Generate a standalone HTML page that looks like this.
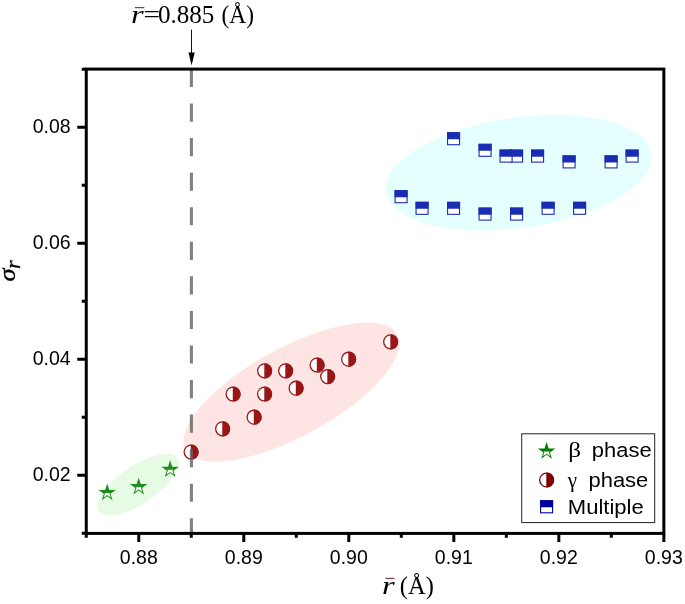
<!DOCTYPE html>
<html lang="en"><head><meta charset="utf-8"><title>sigma_r vs mean r</title>
<style>html,body{margin:0;padding:0;background:#fff}svg{display:block}.t{font-family:"Liberation Sans",Arial,sans-serif;font-size:19.5px;fill:#000}.s{font-family:"Liberation Serif","Times New Roman",serif;fill:#000}.lg{font-family:"Liberation Sans",Arial,sans-serif;fill:#000}</style></head><body>
<svg width="685" height="604" viewBox="0 0 685 604">
<rect width="685" height="604" fill="#fff"/>
<defs>
<clipPath id="sq"><rect x="-7" y="-7" width="14" height="7.55"/></clipPath>
<clipPath id="ci"><rect x="-0.3" y="-9" width="10" height="18"/></clipPath>
<clipPath id="st"><rect x="-10" y="0.3" width="20" height="10"/></clipPath>
</defs>
<ellipse cx="518.55" cy="172.7" rx="134.3" ry="55.2" transform="rotate(-8.2 518.55 172.7)" fill="#e5ffff"/>
<ellipse cx="291.45" cy="392.2" rx="120.6" ry="44.3" transform="rotate(-28.6 291.45 392.2)" fill="#fee4e2"/>
<ellipse cx="138.15" cy="484.5" rx="47.4" ry="18.9" transform="rotate(-34 138.15 484.5)" fill="#e7fae4"/>
<g transform="translate(401.06 196.71)"><rect x="-6" y="-6" width="12" height="12" fill="#fff" stroke="#1b2cb4" stroke-width="1.1"/><rect x="-6.55" y="-6.55" width="13.1" height="13.1" fill="#1b2cb4" clip-path="url(#sq)"/></g>
<g transform="translate(422.06 208.31)"><rect x="-6" y="-6" width="12" height="12" fill="#fff" stroke="#1b2cb4" stroke-width="1.1"/><rect x="-6.55" y="-6.55" width="13.1" height="13.1" fill="#1b2cb4" clip-path="url(#sq)"/></g>
<g transform="translate(453.57 208.31)"><rect x="-6" y="-6" width="12" height="12" fill="#fff" stroke="#1b2cb4" stroke-width="1.1"/><rect x="-6.55" y="-6.55" width="13.1" height="13.1" fill="#1b2cb4" clip-path="url(#sq)"/></g>
<g transform="translate(485.07 214.11)"><rect x="-6" y="-6" width="12" height="12" fill="#fff" stroke="#1b2cb4" stroke-width="1.1"/><rect x="-6.55" y="-6.55" width="13.1" height="13.1" fill="#1b2cb4" clip-path="url(#sq)"/></g>
<g transform="translate(516.58 214.11)"><rect x="-6" y="-6" width="12" height="12" fill="#fff" stroke="#1b2cb4" stroke-width="1.1"/><rect x="-6.55" y="-6.55" width="13.1" height="13.1" fill="#1b2cb4" clip-path="url(#sq)"/></g>
<g transform="translate(548.08 208.31)"><rect x="-6" y="-6" width="12" height="12" fill="#fff" stroke="#1b2cb4" stroke-width="1.1"/><rect x="-6.55" y="-6.55" width="13.1" height="13.1" fill="#1b2cb4" clip-path="url(#sq)"/></g>
<g transform="translate(579.59 208.31)"><rect x="-6" y="-6" width="12" height="12" fill="#fff" stroke="#1b2cb4" stroke-width="1.1"/><rect x="-6.55" y="-6.55" width="13.1" height="13.1" fill="#1b2cb4" clip-path="url(#sq)"/></g>
<g transform="translate(453.57 138.71)"><rect x="-6" y="-6" width="12" height="12" fill="#fff" stroke="#1b2cb4" stroke-width="1.1"/><rect x="-6.55" y="-6.55" width="13.1" height="13.1" fill="#1b2cb4" clip-path="url(#sq)"/></g>
<g transform="translate(485.07 150.31)"><rect x="-6" y="-6" width="12" height="12" fill="#fff" stroke="#1b2cb4" stroke-width="1.1"/><rect x="-6.55" y="-6.55" width="13.1" height="13.1" fill="#1b2cb4" clip-path="url(#sq)"/></g>
<g transform="translate(516.58 156.11)"><rect x="-6" y="-6" width="12" height="12" fill="#fff" stroke="#1b2cb4" stroke-width="1.1"/><rect x="-6.55" y="-6.55" width="13.1" height="13.1" fill="#1b2cb4" clip-path="url(#sq)"/></g>
<g transform="translate(506.08 156.11)"><rect x="-6" y="-6" width="12" height="12" fill="#fff" stroke="#1b2cb4" stroke-width="1.1"/><rect x="-6.55" y="-6.55" width="13.1" height="13.1" fill="#1b2cb4" clip-path="url(#sq)"/></g>
<g transform="translate(537.58 156.11)"><rect x="-6" y="-6" width="12" height="12" fill="#fff" stroke="#1b2cb4" stroke-width="1.1"/><rect x="-6.55" y="-6.55" width="13.1" height="13.1" fill="#1b2cb4" clip-path="url(#sq)"/></g>
<g transform="translate(569.09 161.91)"><rect x="-6" y="-6" width="12" height="12" fill="#fff" stroke="#1b2cb4" stroke-width="1.1"/><rect x="-6.55" y="-6.55" width="13.1" height="13.1" fill="#1b2cb4" clip-path="url(#sq)"/></g>
<g transform="translate(611.09 161.91)"><rect x="-6" y="-6" width="12" height="12" fill="#fff" stroke="#1b2cb4" stroke-width="1.1"/><rect x="-6.55" y="-6.55" width="13.1" height="13.1" fill="#1b2cb4" clip-path="url(#sq)"/></g>
<g transform="translate(632.1 156.11)"><rect x="-6" y="-6" width="12" height="12" fill="#fff" stroke="#1b2cb4" stroke-width="1.1"/><rect x="-6.55" y="-6.55" width="13.1" height="13.1" fill="#1b2cb4" clip-path="url(#sq)"/></g>
<g transform="translate(191.08 452.01)"><circle r="6.95" fill="#fff" stroke="#9a1616" stroke-width="1.3"/><circle r="7.6" fill="#9a1616" clip-path="url(#ci)"/></g>
<g transform="translate(222.58 428.81)"><circle r="6.95" fill="#fff" stroke="#9a1616" stroke-width="1.3"/><circle r="7.6" fill="#9a1616" clip-path="url(#ci)"/></g>
<g transform="translate(254.09 417.21)"><circle r="6.95" fill="#fff" stroke="#9a1616" stroke-width="1.3"/><circle r="7.6" fill="#9a1616" clip-path="url(#ci)"/></g>
<g transform="translate(233.08 394.01)"><circle r="6.95" fill="#fff" stroke="#9a1616" stroke-width="1.3"/><circle r="7.6" fill="#9a1616" clip-path="url(#ci)"/></g>
<g transform="translate(264.59 394.01)"><circle r="6.95" fill="#fff" stroke="#9a1616" stroke-width="1.3"/><circle r="7.6" fill="#9a1616" clip-path="url(#ci)"/></g>
<g transform="translate(264.59 370.81)"><circle r="6.95" fill="#fff" stroke="#9a1616" stroke-width="1.3"/><circle r="7.6" fill="#9a1616" clip-path="url(#ci)"/></g>
<g transform="translate(285.59 370.81)"><circle r="6.95" fill="#fff" stroke="#9a1616" stroke-width="1.3"/><circle r="7.6" fill="#9a1616" clip-path="url(#ci)"/></g>
<g transform="translate(296.09 388.21)"><circle r="6.95" fill="#fff" stroke="#9a1616" stroke-width="1.3"/><circle r="7.6" fill="#9a1616" clip-path="url(#ci)"/></g>
<g transform="translate(317.1 365.01)"><circle r="6.95" fill="#fff" stroke="#9a1616" stroke-width="1.3"/><circle r="7.6" fill="#9a1616" clip-path="url(#ci)"/></g>
<g transform="translate(327.6 376.61)"><circle r="6.95" fill="#fff" stroke="#9a1616" stroke-width="1.3"/><circle r="7.6" fill="#9a1616" clip-path="url(#ci)"/></g>
<g transform="translate(348.6 359.21)"><circle r="6.95" fill="#fff" stroke="#9a1616" stroke-width="1.3"/><circle r="7.6" fill="#9a1616" clip-path="url(#ci)"/></g>
<g transform="translate(390.61 341.81)"><circle r="6.95" fill="#fff" stroke="#9a1616" stroke-width="1.3"/><circle r="7.6" fill="#9a1616" clip-path="url(#ci)"/></g>
<g transform="translate(107.17 492.76)"><polygon points="0,-9.2 2.07,-2.84 8.75,-2.84 3.34,1.09 5.41,7.44 0,3.51 -5.41,7.44 -3.34,1.09 -8.75,-2.84 -2.07,-2.84" fill="#1e8d1e"/><polygon points="0,-6.1 1.37,-1.89 5.8,-1.89 2.22,0.72 3.59,4.94 0,2.33 -3.59,4.94 -2.22,0.72 -5.8,-1.89 -1.37,-1.89" fill="#fff" clip-path="url(#st)"/></g>
<g transform="translate(138.67 486.96)"><polygon points="0,-9.2 2.07,-2.84 8.75,-2.84 3.34,1.09 5.41,7.44 0,3.51 -5.41,7.44 -3.34,1.09 -8.75,-2.84 -2.07,-2.84" fill="#1e8d1e"/><polygon points="0,-6.1 1.37,-1.89 5.8,-1.89 2.22,0.72 3.59,4.94 0,2.33 -3.59,4.94 -2.22,0.72 -5.8,-1.89 -1.37,-1.89" fill="#fff" clip-path="url(#st)"/></g>
<g transform="translate(170.17 469.56)"><polygon points="0,-9.2 2.07,-2.84 8.75,-2.84 3.34,1.09 5.41,7.44 0,3.51 -5.41,7.44 -3.34,1.09 -8.75,-2.84 -2.07,-2.84" fill="#1e8d1e"/><polygon points="0,-6.1 1.37,-1.89 5.8,-1.89 2.22,0.72 3.59,4.94 0,2.33 -3.59,4.94 -2.22,0.72 -5.8,-1.89 -1.37,-1.89" fill="#fff" clip-path="url(#st)"/></g>
<line x1="191.4" y1="69.0" x2="191.4" y2="534.9" stroke="#606060" stroke-opacity="0.8" stroke-width="3.1" stroke-dasharray="18.1 16.46"/>
<rect x="86.26" y="69.1" width="577.59" height="464.3" fill="none" stroke="#000" stroke-width="3"/>
<path d="M86.26 533.4V537.85M138.77 533.4V541.9M191.28 533.4V537.85M243.79 533.4V541.9M296.29 533.4V537.85M348.8 533.4V541.9M401.31 533.4V537.85M453.82 533.4V541.9M506.33 533.4V537.85M558.83 533.4V541.9M611.34 533.4V537.85M663.85 533.4V541.9M86.26 533.36H81.76M86.26 475.36H77.26M86.26 417.36H81.76M86.26 359.36H77.26M86.26 301.36H81.76M86.26 243.36H77.26M86.26 185.36H81.76M86.26 127.36H77.26M86.26 69.36H81.76" stroke="#000" stroke-width="3" fill="none"/>
<text class="t" x="138.77" y="564.3" text-anchor="middle">0.88</text>
<text class="t" x="243.79" y="564.3" text-anchor="middle">0.89</text>
<text class="t" x="348.8" y="564.3" text-anchor="middle">0.90</text>
<text class="t" x="453.82" y="564.3" text-anchor="middle">0.91</text>
<text class="t" x="558.83" y="564.3" text-anchor="middle">0.92</text>
<text class="t" x="663.85" y="564.3" text-anchor="middle">0.93</text>
<text class="t" x="70.6" y="481.36" text-anchor="end">0.02</text>
<text class="t" x="70.6" y="365.36" text-anchor="end">0.04</text>
<text class="t" x="70.6" y="249.36" text-anchor="end">0.06</text>
<text class="t" x="70.6" y="133.36" text-anchor="end">0.08</text>
<text class="s" font-size="25" transform="translate(131.1 23.3) scale(1.300 1)" font-style="italic">r</text>
<text class="s" font-size="24.5" transform="translate(143.6 23.3) scale(1.200 1)">=</text>
<text class="s" font-size="24.5" transform="translate(157.9 23.3) scale(1.025 1)">0.885</text>
<text class="s" font-size="24.5" transform="translate(221.5 23.3) scale(0.955 1)">(Å)</text>
<line x1="134.9" y1="7.6" x2="144.3" y2="7.6" stroke="#8a4444" stroke-width="1.3"/>
<line x1="191.5" y1="29.6" x2="191.5" y2="56" stroke="#111" stroke-width="1"/>
<polygon points="188.5,52.5 194.7,52.5 191.6,65.5" fill="#000"/>
<text class="s" font-size="25" transform="translate(382 594.4) scale(1.300 1)" font-style="italic">r</text>
<text class="s" font-size="24.5" transform="translate(399.8 594.4) scale(1.000 1)">(Å)</text>
<line x1="385.4" y1="578.4" x2="394.4" y2="578.4" stroke="#8a4444" stroke-width="1.3"/>
<text class="s" font-style="italic" font-size="23.5" stroke="#000" stroke-width="0.35" transform="translate(15.3 281.4) rotate(-90) scale(1.12 1)">σ</text>
<text class="s" font-style="italic" font-size="20" stroke="#000" stroke-width="0.25" transform="translate(20.3 269.0) rotate(-90) scale(1.12 1)">r</text>
<rect x="521.7" y="433.8" width="133.0" height="88.8" fill="#fff" stroke="#222" stroke-width="1"/>
<g transform="translate(546.6 451.3)"><polygon points="0,-9.2 2.07,-2.84 8.75,-2.84 3.34,1.09 5.41,7.44 0,3.51 -5.41,7.44 -3.34,1.09 -8.75,-2.84 -2.07,-2.84" fill="#008000"/><polygon points="0,-6.1 1.37,-1.89 5.8,-1.89 2.22,0.72 3.59,4.94 0,2.33 -3.59,4.94 -2.22,0.72 -5.8,-1.89 -1.37,-1.89" fill="#fff" clip-path="url(#st)"/></g>
<g transform="translate(546.6 480)"><circle r="6.95" fill="#fff" stroke="#800000" stroke-width="1.3"/><circle r="7.6" fill="#800000" clip-path="url(#ci)"/></g>
<g transform="translate(546.6 506.8)"><rect x="-6" y="-6" width="12" height="12" fill="#fff" stroke="#0000a0" stroke-width="1.1"/><rect x="-6.55" y="-6.55" width="13.1" height="13.1" fill="#0000a0" clip-path="url(#sq)"/></g>
<text class="s" font-size="21" transform="translate(568.2 457.3) scale(1.200 1)">β</text>
<text class="lg" font-size="20.7" transform="translate(591.8 457.3) scale(1.060 1)">phase</text>
<text class="s" font-size="21" transform="translate(567.8 487.1) scale(1.000 1)">γ</text>
<text class="lg" font-size="20.7" transform="translate(588.5 487.1) scale(1.060 1)">phase</text>
<text class="lg" font-size="20.7" transform="translate(567.8 514.3) scale(1.066 1)">Multiple</text>
</svg></body></html>
